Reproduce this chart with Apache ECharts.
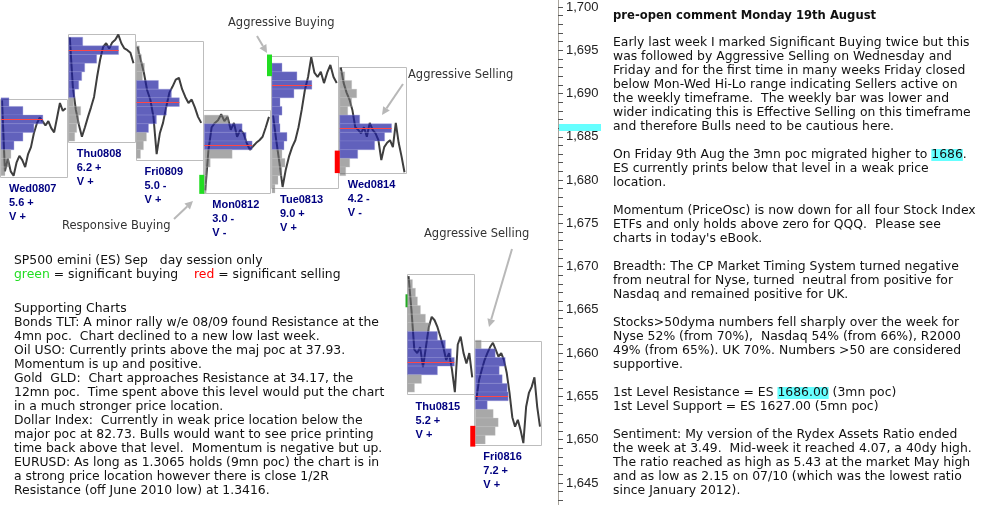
<!DOCTYPE html>
<html>
<head>
<meta charset="utf-8">
<script src="https://cdn.jsdelivr.net/npm/echarts@6/dist/echarts.min.js"></script>
<style>
html, body { margin: 0; padding: 0; background: #fff; }
#main { width: 996px; height: 525px; }
</style>
</head>
<body>
<div id="main"></div>
<script>
// day sessions, ES Sep contract
const days = ['Wed0807', 'Thu0808', 'Fri0809', 'Mon0812', 'Tue0813', 'Wed0814', 'Thu0815', 'Fri0816'];
const rangeTags = ['5.6 +', '6.2 +', '5.0 -', '3.0 -', '9.0 +', '4.2 -', '5.2 +', '7.2 +'];
const volTags = ['V +', 'V +', 'V +', 'V -', 'V +', 'V -', 'V +', 'V +'];
const dayHigh = [1689.4, 1696.9, 1696.1, 1688.1, 1694.3, 1693.1, 1669.1, 1661.4];
const dayLow = [1680.4, 1684.4, 1682.3, 1678.5, 1679.1, 1680.8, 1655.2, 1649.4];

// intraday prices, evenly spaced through each session
const wed0807 = [1689.2, 1681.0, 1682.5, 1681.0, 1680.5, 1682.0, 1682.8, 1682.3, 1681.5, 1683.0, 1683.8, 1685.4, 1686.5, 1687.2, 1686.8, 1686.3, 1686.8, 1686.0, 1685.5, 1687.2, 1688.9, 1688.0, 1688.3];
const thu0808 = [1696.5, 1690.8, 1688.1, 1686.4, 1685.0, 1686.1, 1687.3, 1688.4, 1689.6, 1691.9, 1693.9, 1695.4, 1695.8, 1695.2, 1695.9, 1696.2, 1696.8, 1695.8, 1695.2, 1695.0, 1694.7, 1693.5];
const fri0809 = [1695.4, 1693.9, 1692.4, 1690.4, 1689.3, 1687.3, 1683.0, 1685.4, 1686.6, 1688.4, 1690.1, 1690.8, 1691.6, 1691.8, 1690.5, 1689.6, 1688.9, 1689.3, 1688.4, 1687.3, 1686.6];
const mon0812 = [1678.8, 1683.5, 1686.1, 1686.6, 1686.9, 1687.6, 1686.8, 1687.3, 1685.8, 1686.6, 1685.0, 1685.8, 1685.4, 1684.3, 1683.5, 1683.9, 1684.3, 1684.6, 1685.0, 1686.1, 1687.3];
const tue0813 = [1687.5, 1684.6, 1682.0, 1679.2, 1681.2, 1682.7, 1683.8, 1684.6, 1686.1, 1688.1, 1690.4, 1691.9, 1694.2, 1692.4, 1691.9, 1692.5, 1691.2, 1692.4, 1693.3, 1691.9, 1691.2];
const wed0814 = [1693.0, 1691.2, 1690.1, 1689.3, 1688.1, 1686.1, 1685.8, 1685.4, 1686.1, 1685.0, 1686.6, 1685.8, 1685.4, 1684.6, 1682.3, 1683.8, 1684.3, 1684.6, 1683.8, 1686.6, 1684.3, 1682.7, 1680.9];
const thu0815 = [1668.9, 1665.0, 1660.4, 1660.0, 1660.7, 1658.4, 1660.7, 1663.0, 1664.2, 1663.8, 1663.0, 1661.9, 1660.7, 1659.2, 1660.0, 1658.1, 1655.5, 1661.0, 1661.9, 1660.0, 1658.8, 1660.0, 1657.2];
const fri0816 = [1654.6, 1656.9, 1658.1, 1659.2, 1660.0, 1660.7, 1661.2, 1660.4, 1659.6, 1660.0, 1659.2, 1657.7, 1655.4, 1652.6, 1651.5, 1652.3, 1651.1, 1649.6, 1653.8, 1655.4, 1656.1, 1657.2, 1653.8, 1651.5];
const dayPrices = [wed0807, thu0808, fri0809, mon0812, tue0813, wed0814, thu0815, fri0816];

// market profile: top row price, tpo counts per 1pt row going down, value area, poc
const profTop = [1689, 1696, 1695, 1687, 1693, 1692, 1668, 1661];
const profTpo = [
  [8, 22, 42, 33, 22, 13, 10, 8, 4],
  [14, 50, 28, 16, 13, 10, 6, 5, 12, 10, 8, 6],
  [3, 5, 8, 6, 22, 35, 43, 30, 20, 12, 10, 7, 4],
  [24, 38, 42, 48, 28, 6, 2, 2, 2],
  [10, 25, 40, 22, 8, 10, 7, 8, 15, 12, 10, 13, 10, 6, 3],
  [5, 12, 17, 12, 8, 20, 52, 45, 35, 18, 10, 6],
  [5, 8, 10, 13, 18, 22, 30, 38, 44, 47, 30, 14, 7],
  [6, 20, 30, 24, 27, 32, 33, 12, 18, 23, 20, 10]
];
const vaHigh = [1689, 1696, 1691, 1686, 1693, 1687, 1662, 1660];
const vaLow = [1684, 1690, 1686, 1684, 1684, 1683, 1658, 1654];
const pocPrice = [1687, 1695, 1689, 1684, 1691, 1686, 1659, 1655];

// significant buying / selling marks
const sigDay = [3, 4, 5, 7, 6];
const sigLo = [1678.4, 1692.0, 1680.8, 1649.2, 1665.3];
const sigHi = [1680.6, 1694.5, 1683.4, 1651.6, 1666.8];
const sigColor = ['#22dd22', '#22dd22', '#ff0000', '#ff0000', '#22aa22'];
const sigWidth = [5, 5, 5, 5, 2];

const levelPrice = [1686];
const axisLabels = [1645, 1650, 1655, 1660, 1665, 1670, 1675, 1680, 1685, 1690, 1695, 1700];
const axisTicks = [];
for (let v = 1643; v <= 1700; v++) axisTicks.push(v);

const tpoUnit = 1 / 68;
const bodyFont = '12.4px "DejaVu Sans"';
const noteFont = '11.5px "DejaVu Sans"';

let lineData = [];
for (let d = 0; d < dayPrices.length; d++) {
  const arr = dayPrices[d];
  for (let k = 0; k < arr.length; k++) {
    lineData.push([d + 0.03 + k * 0.94 / (arr.length - 1), arr[k]]);
  }
  lineData.push([d + 1, '-']);
}

function renderBox(params, api) {
  const d = params.dataIndex;
  const a = api.coord([d, dayHigh[d]]);
  const b = api.coord([d + 1, dayLow[d]]);
  return {
    type: 'group',
    children: [
      {
        type: 'rect',
        shape: { x: Math.round(a[0]) + 0.5, y: Math.round(a[1]) + 0.5, width: Math.round(b[0] - a[0]) - 1, height: Math.round(b[1] - a[1]) },
        style: { fill: 'none', stroke: '#bdbdbd', lineWidth: 1 }
      },
      {
        type: 'text',
        x: a[0] + 9,
        y: b[1] + 5,
        style: {
          text: days[d] + '\n' + rangeTags[d] + '\n' + volTags[d],
          font: 'bold 11px "Liberation Sans"',
          fill: '#000080',
          lineHeight: 14,
          verticalAlign: 'top'
        }
      }
    ]
  };
}

function renderProfile(params, api) {
  const d = params.dataIndex;
  const unitW = api.size([tpoUnit, 0])[0];
  const children = [];
  let pocW = 0;
  profTpo[d].forEach(function (n, k) {
    const p = profTop[d] - k;
    const a = api.coord([d, p + 0.5]);
    const b = api.coord([d, p - 0.5]);
    const inVA = p <= vaHigh[d] && p >= vaLow[d];
    if (p === pocPrice[d]) pocW = n * unitW;
    children.push({
      type: 'rect',
      shape: { x: a[0] + 1, y: a[1], width: n * unitW, height: b[1] - a[1] },
      style: {
        fill: inVA ? 'rgba(30,30,160,0.7)' : 'rgba(110,110,110,0.6)',
        stroke: inVA ? 'rgba(150,150,215,0.35)' : 'rgba(200,200,200,0.3)',
        lineWidth: 1
      }
    });
  });
  const c = api.coord([d, pocPrice[d]]);
  children.push({
    type: 'line',
    shape: { x1: c[0] + 1, y1: Math.round(c[1]) + 0.5, x2: c[0] + 1 + pocW, y2: Math.round(c[1]) + 0.5 },
    style: { stroke: '#ff4646', lineWidth: 1.2 }
  });
  return { type: 'group', children: children };
}

function renderSignal(params, api) {
  const i = params.dataIndex;
  const a = api.coord([sigDay[i], sigHi[i]]);
  const b = api.coord([sigDay[i], sigLo[i]]);
  return {
    type: 'rect',
    shape: { x: a[0] + 1 - sigWidth[i], y: a[1], width: sigWidth[i], height: b[1] - a[1] },
    style: { fill: sigColor[i] }
  };
}

function renderLevel(params, api) {
  const c = api.coord([0, levelPrice[params.dataIndex]]);
  const right = params.coordSys.x + params.coordSys.width;
  return {
    type: 'rect',
    shape: { x: right + 1, y: c[1] - 4, width: 42, height: 7 },
    style: { fill: '#66ffff' }
  };
}

function arrow(x1, y1, x2, y2) {
  const ang = Math.atan2(y2 - y1, x2 - x1);
  const len = 8, wid = 4;
  const bx = x2 - len * Math.cos(ang), by = y2 - len * Math.sin(ang);
  const nx = -Math.sin(ang) * wid, ny = Math.cos(ang) * wid;
  return {
    type: 'group',
    children: [
      { type: 'line', shape: { x1: x1, y1: y1, x2: bx, y2: by }, style: { stroke: '#b8b8b8', lineWidth: 2 } },
      { type: 'polygon', shape: { points: [[x2, y2], [bx + nx, by + ny], [bx - nx, by - ny]] }, style: { fill: '#b8b8b8' } }
    ]
  };
}

function label(x, y, text) {
  return { type: 'text', x: x, y: y, style: { text: text, font: noteFont, fill: '#333', verticalAlign: 'middle' } };
}

const legendLines = [
  'SP500 emini (ES) Sep   day session only',
  '{g|green} = significant buying    {r|red} = significant selling'
];
const supportLines = [
  'Supporting Charts',
  'Bonds TLT: A minor rally w/e 08/09 found Resistance at the',
  '4mn poc.  Chart declined to a new low last week.',
  'Oil USO: Currently prints above the maj poc at 37.93.',
  'Momentum is up and positive.',
  'Gold  GLD:  Chart approaches Resistance at 34.17, the',
  '12mn poc.  Time spent above this level would put the chart',
  'in a much stronger price location.',
  'Dollar Index:  Currently in weak price location below the',
  'major poc at 82.73. Bulls would want to see price printing',
  'time back above that level.  Momentum is negative but up.',
  'EURUSD: As long as 1.3065 holds (9mn poc) the chart is in',
  'a strong price location however there is close 1/2R',
  'Resistance (off June 2010 low) at 1.3416.'
];
const commentTitle = 'pre-open comment Monday 19th August';
const commentLines = [
  'Early last week I marked Significant Buying twice but this',
  'was followed by Aggressive Selling on Wednesday and',
  'Friday and for the first time in many weeks Friday closed',
  'below Mon-Wed Hi-Lo range indicating Sellers active on',
  'the weekly timeframe.  The weekly bar was lower and',
  'wider indicating this is Effective Selling on this timeframe',
  'and therefore Bulls need to be cautious here.',
  '',
  'On Friday 9th Aug the 3mn poc migrated higher to {hl|1686}.',
  'ES currently prints below that level in a weak price',
  'location.',
  '',
  'Momentum (PriceOsc) is now down for all four Stock Index',
  'ETFs and only holds above zero for QQQ.  Please see',
  'charts in today\'s eBook.',
  '',
  'Breadth: The CP Market Timing System turned negative',
  'from neutral for Nyse, turned  neutral from positive for',
  'Nasdaq and remained positive for UK.',
  '',
  'Stocks>50dyma numbers fell sharply over the week for',
  'Nyse 52% (from 70%),  Nasdaq 54% (from 66%), R2000',
  '49% (from 65%). UK 70%. Numbers >50 are considered',
  'supportive.',
  '',
  '1st Level Resistance = ES {hl|1686.00} (3mn poc)',
  '1st Level Support = ES 1627.00 (5mn poc)',
  '',
  'Sentiment: My version of the Rydex Assets Ratio ended',
  'the week at 3.49.  Mid-week it reached 4.07, a 40dy high.',
  'The ratio reached as high as 5.43 at the market May high',
  'and as low as 2.15 on 07/10 (which was the lowest ratio',
  'since January 2012).'
];

var myChart = echarts.init(document.getElementById('main'));

var option = {
  animation: false,
  grid: { left: 0, width: 558, top: 0, height: 504.6 },
  xAxis: { type: 'value', min: 0, max: 8.236, show: false },
  yAxis: {
    type: 'value',
    position: 'right',
    min: 1642.5,
    max: 1700.8,
    axisLine: { show: true, onZero: false, lineStyle: { color: '#a8a49c', width: 1 } },
    axisTick: { show: true, inside: false, length: 5, customValues: axisTicks, lineStyle: { color: '#555' } },
    axisLabel: {
      customValues: axisLabels,
      margin: 8,
      color: '#222',
      fontFamily: 'Liberation Sans',
      fontSize: 13,
      formatter: function (v) { return v.toLocaleString('en-US'); }
    },
    splitLine: { show: false }
  },
  series: [
    {
      type: 'custom',
      name: 'level',
      data: levelPrice.map(function (p) { return [0, p]; }),
      renderItem: renderLevel,
      clip: false,
      silent: true,
      z: 1
    },
    {
      type: 'custom',
      name: 'boxes',
      data: days.map(function (d, i) { return [i, dayHigh[i]]; }),
      renderItem: renderBox,
      clip: false,
      silent: true,
      z: 1
    },
    {
      type: 'line',
      name: 'price',
      data: lineData,
      showSymbol: false,
      connectNulls: false,
      lineStyle: { color: '#3e3e3e', width: 2 },
      silent: true,
      z: 2
    },
    {
      type: 'custom',
      name: 'profile',
      data: days.map(function (d, i) { return [i, profTop[i]]; }),
      renderItem: renderProfile,
      clip: false,
      silent: true,
      z: 3
    },
    {
      type: 'custom',
      name: 'signals',
      data: sigDay.map(function (d, i) { return [d, sigHi[i]]; }),
      renderItem: renderSignal,
      clip: false,
      silent: true,
      z: 4
    }
  ],
  graphic: [
    label(228, 23, 'Aggressive Buying'),
    arrow(257, 36, 267, 53),
    label(408, 75, 'Aggressive Selling'),
    arrow(403, 84, 382, 115),
    label(62, 226, 'Responsive Buying'),
    arrow(174, 219, 193, 201),
    label(424, 234, 'Aggressive Selling'),
    arrow(512, 249, 489, 327),
    {
      type: 'text', x: 14, y: 254,
      style: {
        text: legendLines.join('\n'), font: bodyFont, fill: '#111', lineHeight: 14, verticalAlign: 'top',
        rich: {
          g: { fill: '#22dd22', font: bodyFont, lineHeight: 14 },
          r: { fill: '#ff0000', font: bodyFont, lineHeight: 14 }
        }
      }
    },
    {
      type: 'text', x: 14, y: 302,
      style: { text: supportLines.join('\n'), font: bodyFont, fill: '#111', lineHeight: 14, verticalAlign: 'top' }
    },
    {
      type: 'text', x: 613, y: 16,
      style: { text: commentTitle, font: 'bold 11.6px "DejaVu Sans"', fill: '#111', verticalAlign: 'middle' }
    },
    {
      type: 'text', x: 613, y: 36,
      style: {
        text: commentLines.join('\n'), font: bodyFont, fill: '#111', lineHeight: 14, verticalAlign: 'top',
        rich: { hl: { backgroundColor: '#66ffff', font: bodyFont, lineHeight: 14, fill: '#111' } }
      }
    }
  ]
};

myChart.setOption(option);
</script>
</body>
</html>
